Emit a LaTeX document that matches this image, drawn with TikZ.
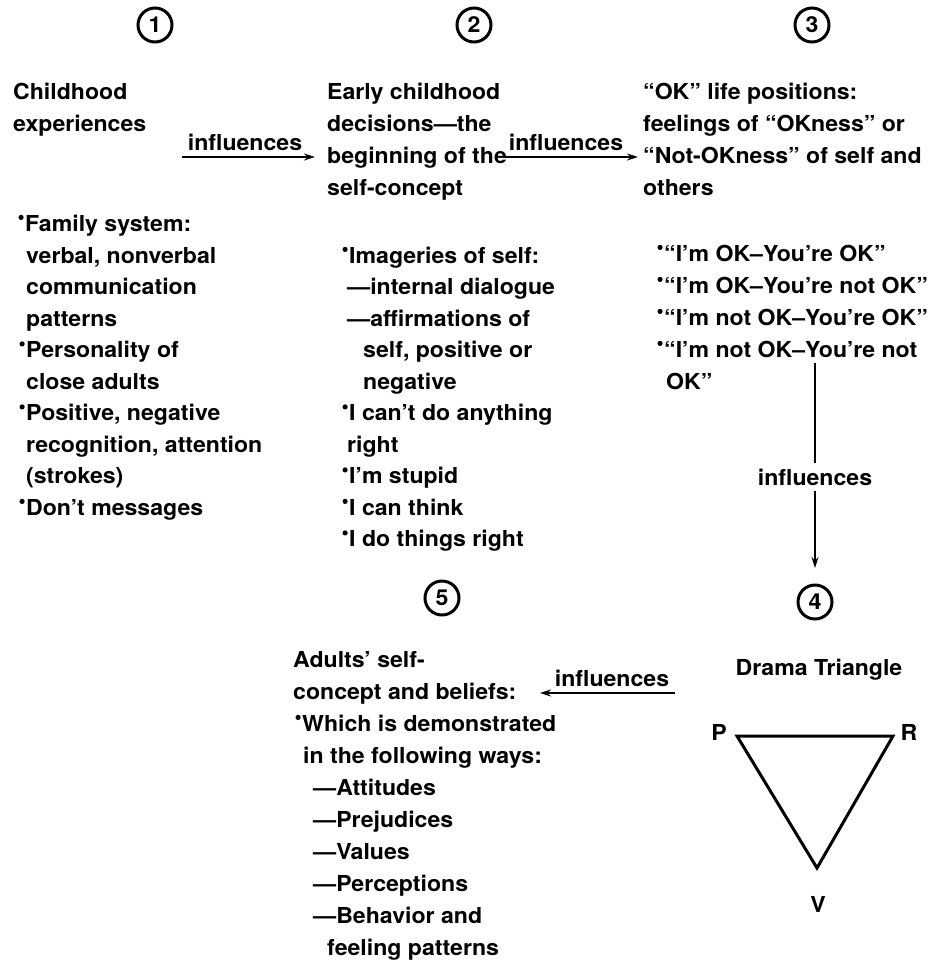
\documentclass[tikz,border=0pt]{standalone}
\usepackage{fontspec}
\setmainfont{TeX Gyre Heros}[FakeStretch=1.05]
\usetikzlibrary{arrows.meta}
\newcommand\BL{\makebox[0pt][r]{\raisebox{11pt}{\tikz\fill (0,0) circle (2.6pt);}\hspace{1.5pt}}}
\newcommand\TxL[4]{\node[txt] (#1) at (#2,#3) {#4};}
\begin{document}
\begin{tikzpicture}[x=1pt,y=-1pt,
 txt/.style={anchor=base west,inner sep=0pt,font=\fontsize{22}{31.5}\selectfont\bfseries},
 num/.style={circle,draw,line width=3pt,minimum size=34pt,inner sep=0pt,font=\fontsize{22}{22}\selectfont\bfseries},
 lab/.style={anchor=base,inner sep=0pt,font=\fontsize{22}{24}\selectfont\bfseries},
 arr/.style={line width=1.6pt,-{Stealth[length=11pt,width=7pt]}}]
\useasboundingbox (0,0) rectangle (947,975);
% circled numbers
\node[num] (n1) at (155,25) {1};
\node[num] (n2) at (474,25) {2};
\node[num] (n3) at (812,25) {3};
\node[num] (n4) at (815,602) {4};
\node[num] (n5) at (442,598) {5};
% column 1
\TxL{c1a}{13}{99}{Childhood}
\TxL{c1b}{13}{131}{experiences}
\TxL{c1c}{25}{231}{\BL Family system:}
\TxL{c1d}{26}{263}{verbal, nonverbal}
\TxL{c1e}{26}{294.5}{communication}
\TxL{c1f}{26}{326}{patterns}
\TxL{c1g}{26}{357.5}{\BL Personality of}
\TxL{c1h}{26}{389}{close adults}
\TxL{c1i}{26}{420.5}{\BL Positive, negative}
\TxL{c1j}{26}{452}{recognition, attention}
\TxL{c1k}{26}{483.5}{(strokes)}
\TxL{c1l}{26}{515}{\BL Don’t messages}
% column 2
\TxL{c2a}{327}{99}{Early childhood}
\TxL{c2b}{327}{131}{decisions—the}
\TxL{c2c}{327}{163}{beginning of the}
\TxL{c2d}{327}{195}{self-concept}
\TxL{c2e}{349}{263}{\BL Imageries of self:}
\TxL{c2f}{347}{294.5}{—internal dialogue}
\TxL{c2g}{347}{326}{—affirmations of}
\TxL{c2h}{363}{357.5}{self, positive or}
\TxL{c2i}{363}{389}{negative}
\TxL{c2j}{349}{420.5}{\BL I can’t do anything}
\TxL{c2k}{347}{452}{right}
\TxL{c2l}{349}{483.5}{\BL I’m stupid}
\TxL{c2m}{349}{515}{\BL I can think}
\TxL{c2n}{349}{546.5}{\BL I do things right}
% column 3
\TxL{c3a}{643}{99}{“OK” life positions:}
\TxL{c3b}{643}{131}{feelings of “OKness” or}
\TxL{c3c}{643}{163}{“Not-OKness” of self and}
\TxL{c3d}{643}{195}{others}
\TxL{c3e}{664}{261}{\BL “I’m OK–You’re OK”}
\TxL{c3f}{664}{293}{\BL “I’m OK–You’re not OK”}
\TxL{c3g}{664}{325}{\BL “I’m not OK–You’re OK”}
\TxL{c3h}{664}{357}{\BL “I’m not OK–You’re not}
\TxL{c3i}{666}{389}{OK”}
% block 5
\TxL{c5a}{293}{667}{Adults’ self-}
\TxL{c5b}{293}{699}{concept and beliefs:}
\TxL{c5c}{302}{731}{\BL Which is demonstrated}
\TxL{c5d}{303}{763}{in the following ways:}
\TxL{c5e}{313}{795}{—Attitudes}
\TxL{c5f}{313}{827}{—Prejudices}
\TxL{c5g}{313}{859}{—Values}
\TxL{c5h}{313}{891}{—Perceptions}
\TxL{c5i}{313}{923}{—Behavior and}
\TxL{c5j}{327}{955}{feeling patterns}
% block 4
\node[lab] (dt) at (819,675) {Drama Triangle};
\coordinate (tP) at (737,736);
\coordinate (tR) at (893,736);
\coordinate (tV) at (817,868);
\draw[line width=3pt,line join=miter] (tP) -- (tR) -- (tV) -- cycle;
\node[lab] (lP) at (719,740) {P};
\node[lab] (lR) at (909,740) {R};
\node[lab] (lV) at (818,912) {V};
% arrows
\coordinate (a1s) at (182,157);
\coordinate (a1e) at (315,157);
\draw[arr] (a1s) -- (a1e);
\node[lab] (l1) at (245,150) {influences};
\coordinate (a2s) at (504,157);
\coordinate (a2e) at (638,157);
\draw[arr] (a2s) -- (a2e);
\node[lab] (l2) at (566,150) {influences};
\coordinate (v1) at (815,363);
\coordinate (v2) at (815,568);
\draw[arr] (v1) -- (v2);
\node[anchor=center,fill=white,inner xsep=2pt,inner ysep=6pt,font=\fontsize{22}{24}\selectfont\bfseries] (l3) at (815,477) {influences};
\coordinate (a5s) at (675,693);
\coordinate (a5e) at (540,693);
\draw[arr] (a5s) -- (a5e);
\node[lab] (l5) at (612,686) {influences};
\end{tikzpicture}
\end{document}
